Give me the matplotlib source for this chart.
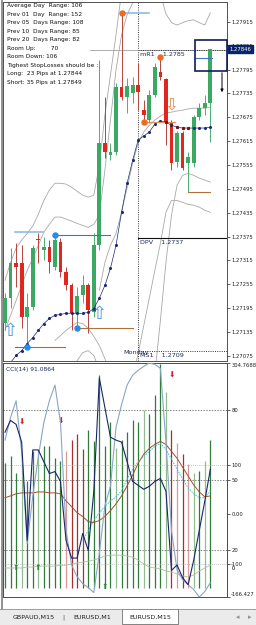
import numpy as np
import matplotlib
matplotlib.use("Agg")
import matplotlib.pyplot as plt
import matplotlib.transforms as mtransforms
from matplotlib.patches import Rectangle
from matplotlib.lines import Line2D

plt.rcParams['font.family'] = ['DejaVu Sans']
plt.rcParams['font.size'] = 4.3

nan = np.nan

# ----------------------------------------------------------
# EURUSD,M15 candles
opens = [1.27158, 1.27221, 1.27309, 1.27309, 1.27173, 1.27198, 1.27369, 1.27342, 1.27349, 1.27299,
         1.27362, 1.27286, 1.27254, 1.27183, 1.27228, 1.27254, 1.27186, 1.27354, 1.27611, 1.27581,
         1.27588, 1.27752, 1.27726, 1.27736, 1.27757, 1.27694, 1.27669, 1.27731, 1.27789, 1.27772,
         1.27664, 1.27563, 1.27636, 1.27560, 1.27560, 1.27676, 1.27699, 1.27711]
highs = [1.27233, 1.27347, 1.27359, 1.27354, 1.27233, 1.27354, 1.27384, 1.27374, 1.27367, 1.27379,
         1.27372, 1.27299, 1.27259, 1.27249, 1.27279, 1.27259, 1.27384, 1.27819, 1.27726, 1.27611,
         1.27762, 1.27938, 1.27774, 1.27777, 1.27812, 1.27719, 1.27744, 1.27812, 1.27827, 1.27774,
         1.27669, 1.27641, 1.27641, 1.27588, 1.27681, 1.27711, 1.27731, 1.27846]
lows = [1.27140, 1.27196, 1.27249, 1.27145, 1.27098, 1.27191, 1.27309, 1.27316, 1.27284, 1.27291,
        1.27274, 1.27241, 1.27140, 1.27145, 1.27208, 1.27133, 1.27173, 1.27342, 1.27573, 1.27568,
        1.27581, 1.27719, 1.27686, 1.27711, 1.27694, 1.27664, 1.27661, 1.27726, 1.27769, 1.27606,
        1.27543, 1.27550, 1.27543, 1.27487, 1.27550, 1.27669, 1.27681, 1.27613]
closes = [1.27221, 1.27309, 1.27299, 1.27173, 1.27198, 1.27347, 1.27367, 1.27349, 1.27311, 1.27367,
          1.27286, 1.27254, 1.27183, 1.27226, 1.27254, 1.27191, 1.27354, 1.27611, 1.27588, 1.27588,
          1.27752, 1.27726, 1.27754, 1.27757, 1.27739, 1.27681, 1.27731, 1.27802, 1.27777, 1.27664,
          1.27560, 1.27636, 1.27548, 1.27576, 1.27676, 1.27699, 1.27711, 1.27846]

bars = np.arange(len(opens))

# gray envelope lines (nan where they are off screen)
band_a = [1.27265, 1.27310, 1.27346, 1.27366, 1.27383, 1.27401, 1.27431, 1.27466, 1.27492, 1.27509,
          1.27509, 1.27507, 1.27499, 1.27489, 1.27479, 1.27474, 1.27479, 1.27555, 1.27681, 1.27781,
          1.27882, 1.27990] + [nan] * 16
band_b = [1.27139, 1.27177, 1.27214, 1.27252, 1.27290, 1.27320, 1.27353, 1.27386, 1.27406, 1.27424,
          1.27424, 1.27419, 1.27414, 1.27408, 1.27403, 1.27398, 1.27406, 1.27429, 1.27542, 1.27668,
          1.27794, 1.27882, 1.27933, 1.27963, 1.28010, nan, nan, nan, 1.27985, 1.27935,
          1.27913, 1.27907, 1.27913, 1.27918, 1.27920, 1.27913, 1.27907, 1.27938]
band_m = [nan] * 17 + [1.27240, 1.27310, 1.27353, 1.27383, 1.27436, 1.27497, 1.27560, 1.27610, 1.27638,
                       1.27655, 1.27668, 1.27678, 1.27686, 1.27688, 1.27691, 1.27693, 1.27696, 1.27698,
                       1.27698, 1.27698, 1.27701]
band_c = [nan] * 12 + [1.27040, 1.27063, 1.27083, 1.27088, 1.27076, 1.27040] + [nan] * 9 + \
         [1.27030, 1.27164, 1.27310, 1.27429, 1.27504, 1.27529, 1.27534, 1.27529, 1.27522, 1.27517, 1.27512]
band_d = [nan] * 9 + [1.27114, 1.27126, 1.27139, 1.27149, 1.27159, 1.27156, 1.27144, 1.27124, 1.27101,
                      1.27068, 1.27030, nan, nan, nan, 1.27020,
                      1.27081, 1.27151, 1.27220, 1.27290, 1.27358, 1.27436, 1.27466, 1.27466, 1.27461,
                      1.27456, 1.27454, 1.27449, 1.27441, 1.27436]

# navy dotted moving average
ma_line = [nan, 1.27058, 1.27076, 1.27088, 1.27106, 1.27121, 1.27139, 1.27156, 1.27169, 1.27177,
           1.27179, 1.27182, 1.27182, 1.27182, 1.27182, 1.27184, 1.27194, 1.27220, 1.27252, 1.27295,
           1.27353, 1.27436, 1.27509, 1.27567, 1.27618, 1.27628, 1.27638, 1.27658, 1.27666, 1.27663,
           1.27655, 1.27650, 1.27648, 1.27648, 1.27648, 1.27648, 1.27648, 1.27650]
ma_red_from, ma_red_to = 29, 33

# swing highs / lows
high_marks_idx = [21, 25, 28]
high_marks_px = [1.27938, 1.27664, 1.27827]
low_marks_idx = [4, 9, 13]
low_marks_px = [1.27098, 1.27379, 1.27145]

# level segments: from bar, to bar, price, kind
level_segments = [
    (1.8, 4, 1.27098, 'blue'),
    (4, 10.8, 1.27098, 'brown'),
    (9, 19, 1.27379, 'blue'),
    (13, 23, 1.27145, 'brown'),
    (21, 26, 1.27938, 'sky'),
    (25, 30.6, 1.27664, 'orange'),
    (33, 37, 1.27487, 'brown'),
    (1.8, 6.8, 1.27387, 'sky'),
    (34.2, 37.3, 1.27824, 'blue'),
]

buy_arrow_idx = [1, 17]
buy_arrow_px = [1.27137, 1.27180]
sell_arrow_idx = [30]
sell_arrow_px = [1.27706]

pivot_names = ['mR1', 'DPV', 'MS1']
pivot_levels = [1.27845, 1.27372, 1.27087]
pivot_text = ['1.2785', '1.2737', '1.2709']
pivot_start = 24
stop_line_start = 15.3

box_from, box_lo, box_hi = 34.2, 1.27792, 1.27870
target_from, target_to = 1.27794, 1.27731
current_price = 1.27846

info_lines = ["Average Day  Range: 106",
              "Prev 01  Day  Range: 152",
              "Prev 05  Days Range: 108",
              "Prev 10  Days Range: 85",
              "Prev 20  Days Range: 82",
              "Room Up:        70",
              "Room Down: 106",
              "Tighest StopLosses should be :",
              "Long:  23 Pips at 1.27844",
              "Short: 35 Pips at 1.27849"]

price_ticks = [1.27075 + 0.0006 * k for k in range(15)]

# ----------------------------------------------------------
# CCI window
cci_fast = [165.3, 189.1, 181.2, 145.5, -52.5, 129.7, 129.7, 105.9, 82.2, 86.1,
            66.3, -52.5, -88.1, -88.1, -38.6, -72.3, 46.5, 274.3, 214.9, 155.4,
            149.5, 145.5, 105.9, 66.3, 58.4, 50.5, 56.4, 66.3, 72.3, 46.5,
            -112.9, -102.0, -127.7, -141.6, -92.1, -32.7, 26.7, 91.0864]
cci_slow = [149.5, 195.0, 228.7, 125.7, -58.4, 36.6, 115.8, 185.1, 228.7, 260.4,
            185.1, -32.7, -102.0, -125.7, -139.6, -147.5, -157.4, -78.2, 16.8, 56.4,
            175.2, 220.8, 260.4, 280.2, 290.1, 298.0, 304.7688, 302.0, 294.1, 145.5,
            -32.7, -111.9, -131.7, -141.6, -151.5, -166.427, -155.4, -137.6]
signal_brown = [42.4, 43.2, 44.1, 44.5, 44.5, 44.5, 44.9, 44.9, 44.5, 44.5,
                44.1, 41.1, 38.6, 36.0, 34.4, 32.2, 31.8, 32.7, 34.4, 36.9,
                39.8, 43.2, 47.5, 52.1, 57.2, 61.0, 63.5, 65.2, 66.5, 65.2,
                62.2, 59.3, 55.5, 51.7, 47.9, 44.9, 42.8, 43.2]
signal_cyan = [nan] * 14 + [24.2, 28.4, 32.7, 36.0, 38.6, 41.1, 42.8, 45.3, 50.4, 54.6,
                            57.8, 60.1, 62.2, 64.4, 65.6, 63.1, 58.9, 54.6, 50.4, 46.6,
                            44.1, 42.4, 42.4, 45.3]
signal_olive = [12.4, 12.4, 12.4, 12.4, 12.8, 12.8, 13.2, 13.2, 13.2, 13.2,
                13.6, 13.6, 14.1, 14.5, 14.9, 15.3, 15.8, 16.6, 17.5, 17.9,
                17.9, 17.9, 17.5, 17.0, 15.8, 14.1, 12.8, 12.4, 12.0, 11.1,
                10.7, 9.8, 9.0, 8.6, 9.4, 11.1, 12.4, 13.6]
hist_vals = [57.2, 60.1, 52.9, 56.7, 49.6, 62.2, 63.1, 64.4, 64.4, 59.3,
             58.0, 62.2, 67.3, 69.8, 63.1, 71.5, 66.5, 94.8, 64.4, 74.8,
             63.5, 67.3, 70.6, 75.7, 74.8, 80.0, 78.3, 86.3, 99.4, 87.6,
             71.5, 65.6, 61.0, 56.7, 52.9, 53.8, 58.0, 67.3]
hist_kind = "gggLggLggggprrrggggg" + "LggggLgggLrprpLgLg"

sell_sig_idx = [3, 10, 30]
sell_sig_val = [74.5, 74.9, 94.8]
buy_sig_idx = [2, 6, 18]
buy_sig_val = [12.8, 12.8, 4.3]

cci_ticks = [304.7688, 100, 0, -100, -166.427]
cci_tick_labels = ['304.7688', '100', '0.00', '-100', '-166.427']
stoch_levels = [80, 50, 20]

date_ticks = [0, 8, 16, 24, 32]
date_labels = ['18 May 2012', '18 May 12:45', '18 May 14:45', '18 May 16:45', '20 May 18:45']
tab_names = ['GBPAUD,M15', 'EURUSD,M1', 'EURUSD,M15']

# ----------------------------------------------------------
W, H = 256, 625
fig = plt.figure(figsize=(W / 100, H / 100), dpi=100)
fig.patch.set_facecolor('white')

x_lim = (-0.36, 40.0)
frame_col = '#505050'
axis_fs = 3.8

ax = fig.add_axes([3 / W, 1 - 361 / H, 224 / W, 359 / H])
ax.set_xlim(*x_lim)
ax.set_ylim(1.27062, 1.27965)

# envelopes
for band in (band_a, band_b, band_m, band_c, band_d):
    ax.plot(bars, band, color='#a8a8a8', lw=0.6, zorder=1)

# moving average with dots
ax.plot(bars, ma_line, color='#1b2a78', lw=0.5, marker='o', ms=1.2, zorder=4)
ax.plot(bars[ma_red_from:ma_red_to + 1], ma_line[ma_red_from:ma_red_to + 1], ls='none',
        marker='o', ms=1.3, color='#7a1010', zorder=5)

# candles
o = np.array(opens); c = np.array(closes)
up = c >= o
body_col = np.where(up, '#3ba964', '#e3261d')
wick_col = np.where(up, '#4caf70', '#b8443c')
ax.vlines(bars, lows, highs, colors=wick_col, lw=0.7, zorder=2)
ax.bar(bars, np.maximum(np.abs(c - o), 0.00002), bottom=np.minimum(o, c), width=0.68,
       color=body_col, lw=0, zorder=3)

# level segments
seg_colors = {'blue': '#3a78b8', 'brown': '#b0703c', 'sky': '#8cbde0', 'orange': '#e0925a'}
seg_width = {'blue': 0.8, 'brown': 0.8, 'sky': 1.2, 'orange': 0.9}
for x0, x1, p, kind in level_segments:
    ax.plot([x0, x1], [p, p], color=seg_colors[kind], lw=seg_width[kind], zorder=4)

ax.plot(high_marks_idx, high_marks_px, 'o', color='#f06a1e', ms=3.6, zorder=6)
ax.plot(low_marks_idx, low_marks_px, 'o', color='#2b8ae6', ms=3.6, zorder=6)

for i, p in zip(buy_arrow_idx, buy_arrow_px):
    ax.text(i, p, '\u21e7', color='#4f96dc', fontsize=13, ha='center', va='center', zorder=7)
for i, p in zip(sell_arrow_idx, sell_arrow_px):
    ax.text(i, p, '\u21e9', color='#e68a4a', fontsize=12, ha='center', va='center', zorder=7)

# day separator and pivots
ax.axvline(pivot_start, color='#202020', ls=(0, (1.2, 1.5)), lw=0.6, zorder=1)
ax.plot([stop_line_start, x_lim[1]], [pivot_levels[0]] * 2, color='#a0a0a0', lw=0.6, zorder=1)
ax.plot([pivot_start, x_lim[1]], [pivot_levels[0]] * 2, color='#202020', ls=(0, (1.2, 1.5)), lw=0.6)
ax.plot([pivot_start, x_lim[1]], [pivot_levels[1]] * 2, color='#101010', lw=0.8)
ax.plot([pivot_start, x_lim[1]], [pivot_levels[2]] * 2, color='#202020', ls=(0, (1.2, 1.5)), lw=0.6)
for name, lvl, txt in zip(pivot_names, pivot_levels, pivot_text):
    ax.annotate(name + '    ' + txt, xy=(pivot_start + 0.3, lvl), xytext=(0, -1.5),
                textcoords='offset points', va='top', ha='left', color='#1c2c5c', fontsize=4.6,
                zorder=8)
ax.text(21.3, 1.27083, 'Monday', color='#1c2c5c', fontsize=4.6, va='center', ha='left')

# target box and arrow
ax.add_patch(Rectangle((box_from, box_lo), x_lim[1] - box_from, box_hi - box_lo, fill=False,
                       ec='#101c5c', lw=1.2, zorder=8, clip_on=False))
ax.annotate('', xy=(39.1, target_to), xytext=(39.1, target_from),
            arrowprops=dict(arrowstyle='-|>', color='black', lw=0.7, mutation_scale=4))

# info block
for k, line in enumerate(info_lines):
    fig.text(7 / W, 1 - (6 + 8.45 * k) / H, line, ha='left', va='center', fontsize=4.2, color='#101010')

# price axis
ax.yaxis.tick_right()
ax.set_yticks(price_ticks)
ax.set_yticklabels(['%.5f' % t for t in price_ticks])
ax.tick_params(axis='y', length=2, width=0.5, pad=1.2, labelsize=axis_fs, colors='#202020')
ax.set_xticks([])
for s in ax.spines.values():
    s.set_color(frame_col)
    s.set_linewidth(0.7)

blend = mtransforms.blended_transform_factory(ax.transAxes, ax.transData)
ax.text(1.012, current_price, '%.5f' % current_price, transform=blend, color='white',
        fontsize=axis_fs, va='center', ha='left', clip_on=False, zorder=20,
        bbox=dict(boxstyle='square,pad=0.3', fc='#0a246a', ec='#0a246a'))

# ----------------------------------------------------------
axc = fig.add_axes([3 / W, 1 - 597 / H, 224 / W, 234 / H])
axc.set_xlim(*x_lim)
axc.set_ylim(-166.427, 304.7688)
ax2 = axc.twinx()
ax2.set_ylim(0, 100)
ax2.set_xlim(*x_lim)

hist_colors = {'g': '#2e7b3a', 'L': '#8fbf8f', 'r': '#a8302c', 'p': '#d8999a'}
ax2.vlines(bars, 4, hist_vals, colors=[hist_colors[k] for k in hist_kind], lw=0.9, zorder=1)

for lvl in stoch_levels:
    ax2.axhline(lvl, color='#505050', ls=(0, (2, 2)), lw=0.5, zorder=2)
for lvl in (100, -100):
    axc.axhline(lvl, color='#b0b0b0', ls=(0, (1.5, 1.5)), lw=0.5, zorder=2)

ax2.plot(bars, signal_olive, color='#b4bca4', lw=0.6, zorder=3)
ax2.plot(bars, signal_brown, color='#a0522d', lw=0.7, zorder=3)
ax2.plot(bars, signal_cyan, color='#3cc0c8', lw=0.7, ls=(0, (1.5, 1.2)), zorder=3)
axc.plot(bars, cci_slow, color='#8aa5c6', lw=0.8, zorder=4)
axc.plot(bars, cci_fast, color='#18266a', lw=0.8, zorder=5)
axc.set_zorder(ax2.get_zorder() + 1)
axc.patch.set_visible(False)

for i, v in zip(sell_sig_idx, sell_sig_val):
    ax2.text(i, v, '\u2b07', color='#d42020', fontsize=5.5, ha='center', va='center', zorder=6)
for i, v in zip(buy_sig_idx, buy_sig_val):
    ax2.text(i, v, '\u2b06', color='#2a8a3a', fontsize=5.5, ha='center', va='center', zorder=6)

axc.text(0.012, 0.985, 'CCI(14) 91.0864', transform=axc.transAxes, ha='left', va='top',
         fontsize=4.3, color='#1c2c5c')

axc.yaxis.tick_right()
axc.set_yticks(cci_ticks)
axc.set_yticklabels(cci_tick_labels)
axc.tick_params(axis='y', length=2, width=0.5, pad=1.0, labelsize=axis_fs, colors='#202020')
labs = axc.get_yticklabels()
labs[0].set_va('top')
labs[-1].set_va('bottom')
ax2.set_yticks(stoch_levels)
ax2.set_yticklabels([str(v) for v in stoch_levels])
ax2.tick_params(axis='y', length=2, width=0.5, pad=1.0, labelsize=axis_fs, colors='#202020')
ax2.text(1.0, 12.0, '   0', transform=mtransforms.blended_transform_factory(ax2.transAxes, ax2.transData),
         fontsize=axis_fs, va='center', ha='left', clip_on=False)

axc.set_xticks(date_ticks)
axc.set_xticklabels(date_labels, ha='left')
axc.tick_params(axis='x', length=2, width=0.5, pad=1.5, labelsize=4.2, colors='#202020')
ax2.set_xticks([])
for a in (axc, ax2):
    for s in a.spines.values():
        s.set_color(frame_col)
        s.set_linewidth(0.7)

# ----------------------------------------------------------
# window chrome: left border and tab strip
fig.add_artist(Line2D([0.5 / W, 0.5 / W], [1 - 609 / H, 1], color='#808080', lw=0.6))
fig.add_artist(Line2D([2 / W, 2 / W], [1 - 609 / H, 1], color='#808080', lw=0.6))
fig.add_artist(Rectangle((0, 0), 1, 16 / H, transform=fig.transFigure, fc='#ebebeb', ec='none'))
fig.add_artist(Line2D([0, 1], [16 / H, 16 / H], color='#909090', lw=0.6))
fig.add_artist(Rectangle((122 / W, 1 / H), 56 / W, 15 / H, transform=fig.transFigure,
                         fc='white', ec='#707070', lw=0.6))
tab_x = [34, 92, 150]
for name, tx in zip(tab_names, tab_x):
    fig.text(tx / W, 8 / H, name, ha='center', va='center', fontsize=4.6, color='#202020')
fig.text(63 / W, 8 / H, '|', ha='center', va='center', fontsize=4.6, color='#505050')
fig.text(238 / W, 8 / H, '\u25c2', ha='center', va='center', fontsize=5, color='#909090')
fig.text(250 / W, 8 / H, '\u25b8', ha='center', va='center', fontsize=5, color='#909090')

fig.savefig('out.png', dpi=100)
